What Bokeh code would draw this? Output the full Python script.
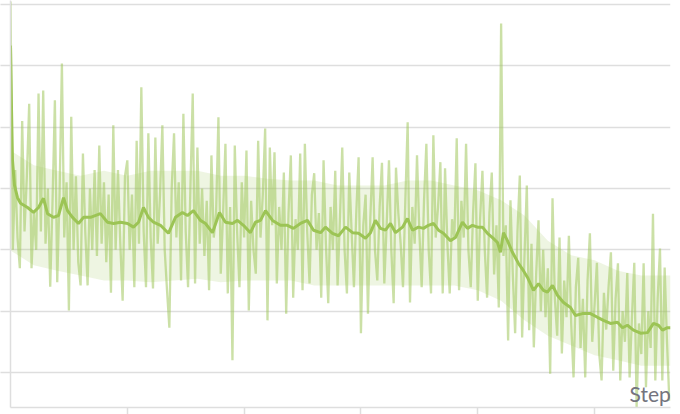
from bokeh.plotting import figure
from bokeh.models import FixedTicker, Label, CustomJSTickFormatter
from bokeh.embed import file_html
from bokeh.resources import INLINE

# Raw series (one value every 20 steps, from step 0)
raw_step_interval = 20
raw_values = [
    7.05, 3.0, 4.3, 3.2, 2.7, 5.1, 3.3, 4.2, 5.38, 2.7,
    3.6, 3.0, 5.55, 3.3, 5.6, 3.1, 4.0, 2.4, 3.8, 5.44,
    2.47, 3.9, 6.04, 3.2, 4.1, 2.01, 5.17, 3.0, 4.2, 2.8,
    2.42, 4.57, 3.3, 2.42, 4.0, 3.0, 4.3, 2.9, 4.7, 3.1,
    4.1, 2.8, 3.9, 2.3, 5.03, 3.0, 4.3, 3.1, 2.17, 4.2,
    4.46, 3.0, 3.9, 2.39, 4.78, 3.1, 5.65, 3.3, 2.39, 4.9,
    3.2, 2.37, 4.83, 3.1, 3.9, 5.03, 3.0, 2.34, 1.73, 4.0,
    4.9, 3.2, 4.1, 2.5, 5.22, 3.3, 2.39, 4.0, 5.55, 2.45,
    4.67, 3.1, 4.0, 2.9, 3.8, 2.34, 4.54, 3.2, 3.6, 5.16,
    2.61, 3.6, 4.73, 2.29, 3.7, 1.2, 4.7, 3.3, 2.39, 4.1,
    3.2, 4.62, 2.01, 3.8, 3.0, 2.61, 4.78, 3.2, 3.9, 4.98,
    1.85, 4.67, 3.4, 4.59, 2.45, 3.7, 3.0, 4.26, 1.96, 3.6,
    4.54, 2.22, 3.5, 3.0, 4.57, 2.34, 4.73, 3.3, 2.45, 3.9,
    4.25, 3.0, 3.6, 2.22, 4.46, 3.1, 2.13, 3.7, 3.0, 4.29,
    2.42, 3.5, 4.67, 3.0, 2.29, 4.26, 3.3, 2.39, 3.6, 4.51,
    1.64, 3.4, 3.9, 1.96, 3.5, 4.51, 3.0, 2.5, 3.7, 4.42,
    2.45, 3.4, 4.46, 3.0, 2.13, 4.34, 3.6, 3.1, 2.39, 3.8,
    5.08, 2.14, 3.7, 3.1, 4.54, 3.3, 2.39, 3.8, 4.73, 3.0,
    2.29, 4.87, 3.2, 3.7, 4.43, 2.29, 4.33, 3.1, 2.29, 3.5,
    3.2, 4.82, 2.34, 3.8, 3.2, 4.73, 3.0, 2.39, 3.6, 4.41,
    2.17, 3.5, 4.29, 3.0, 2.22, 3.6, 4.26, 2.6, 3.4, 2.06,
    6.69, 2.9, 3.4, 1.52, 3.81, 2.6, 1.64, 3.3, 4.21, 1.57,
    2.9, 4.05, 1.69, 3.1, 1.41, 2.6, 3.48, 2.0, 3.0, 1.9,
    2.7, 0.98, 3.84, 2.2, 1.6, 3.2, 1.31, 2.5, 1.9, 3.23,
    1.8, 0.92, 2.4, 2.87, 1.4, 2.2, 0.92, 2.5, 3.27, 1.5,
    2.1, 2.79, 1.3, 0.87, 2.3, 1.7, 2.4, 2.96, 1.03, 2.2,
    2.78, 0.87, 2.0, 1.5, 2.62, 0.92, 1.9, 2.79, 0.43, 1.8,
    1.3, 2.78, 0.76, 2.0, 1.4, 3.59, 0.87, 2.2, 3.02, 0.87,
    2.71, 1.5, 0.54,
]
raw_steps = [i * raw_step_interval for i in range(len(raw_values))]

# Dense core of the raw series (where the raw line fills the band)
band_steps = [0, 200, 400, 600, 800, 1000, 1200, 1400, 1600, 1800,
              2000, 2200, 2400, 2600, 2800, 3000, 3200, 3400, 3600, 3800,
              4000, 4200, 4400, 4600, 4800, 5000, 5200, 5400, 5600, 5650]
band_upper = [4.62, 4.38, 4.29, 4.21, 4.29, 4.21, 4.29, 4.29, 4.29, 4.21,
              4.21, 4.16, 4.13, 4.13, 4.05, 4.05, 4.05, 4.13, 4.13, 4.05,
              3.97, 3.81, 3.56, 3.15, 2.91, 2.83, 2.66, 2.58, 2.58, 2.58]
band_lower = [2.99, 2.75, 2.66, 2.58, 2.50, 2.50, 2.47, 2.50, 2.53, 2.47,
              2.50, 2.50, 2.50, 2.42, 2.42, 2.42, 2.42, 2.42, 2.42, 2.42,
              2.34, 2.17, 1.85, 1.60, 1.44, 1.28, 1.20, 1.11, 1.11, 1.11]

# Smoothed series
smooth_steps = [
    0, 9, 17, 34, 60, 86, 146, 197, 240, 282,
    317, 368, 411, 454, 488, 531, 582, 625, 685, 770,
    830, 882, 942, 1002, 1053, 1096, 1138, 1181, 1224, 1284,
    1352, 1412, 1472, 1515, 1566, 1626, 1669, 1729, 1789, 1840,
    1900, 1943, 1994, 2054, 2097, 2140, 2183, 2243, 2311, 2371,
    2422, 2482, 2542, 2594, 2654, 2696, 2756, 2808, 2868, 2928,
    2979, 3039, 3082, 3124, 3167, 3210, 3253, 3296, 3356, 3398,
    3441, 3492, 3535, 3578, 3621, 3664, 3706, 3766, 3809, 3869,
    3912, 3955, 3998, 4040, 4083, 4126, 4169, 4194, 4220, 4254,
    4297, 4348, 4391, 4426, 4477, 4520, 4562, 4597, 4640, 4682,
    4734, 4794, 4836, 4896, 4965, 5025, 5076, 5136, 5196, 5239,
    5281, 5333, 5393, 5453, 5504, 5547, 5581, 5624, 5650,
]
smooth_values = [
    6.33, 5.27, 4.46, 4.05, 3.85, 3.76, 3.69, 3.61, 3.69, 3.84,
    3.59, 3.53, 3.56, 3.85, 3.64, 3.53, 3.43, 3.53, 3.53, 3.59,
    3.45, 3.43, 3.45, 3.43, 3.37, 3.45, 3.69, 3.53, 3.45, 3.40,
    3.27, 3.53, 3.61, 3.56, 3.64, 3.48, 3.43, 3.28, 3.61, 3.45,
    3.43, 3.48, 3.40, 3.28, 3.45, 3.48, 3.64, 3.48, 3.40, 3.40,
    3.35, 3.43, 3.48, 3.32, 3.28, 3.37, 3.27, 3.23, 3.37, 3.28,
    3.27, 3.19, 3.28, 3.48, 3.35, 3.32, 3.43, 3.28, 3.37, 3.51,
    3.32, 3.37, 3.35, 3.40, 3.43, 3.32, 3.27, 3.15, 3.20, 3.45,
    3.35, 3.40, 3.37, 3.37, 3.27, 3.20, 3.12, 2.96, 3.28, 3.15,
    2.96, 2.78, 2.66, 2.55, 2.34, 2.45, 2.34, 2.31, 2.42, 2.26,
    2.14, 2.06, 1.93, 1.96, 1.96, 1.90, 1.85, 1.80, 1.82, 1.73,
    1.77, 1.69, 1.64, 1.65, 1.80, 1.77, 1.69, 1.73, 1.73,
]

x_ticks = [1000, 2000, 3000, 4000, 5000]
y_ticks = [1, 2, 3, 4, 5, 6, 7]
x_title = "Step"

GREEN = "#A0C75C"
GRID = "#dedede"

p = figure(width=680, height=414, x_range=(0, 5650), y_range=(0.429, 7.066),
           output_backend="svg", toolbar_location=None,
           min_border_left=10, min_border_right=10, min_border_top=0, min_border_bottom=7)
p.outline_line_color = None
p.background_fill_color = "white"

p.varea(x=band_steps, y1=band_lower, y2=band_upper, fill_color=GREEN, fill_alpha=0.18)
p.line(raw_steps, raw_values, line_color=GREEN, line_alpha=0.55, line_width=2.3)
p.line(smooth_steps, smooth_values, line_color="#9CC455", line_width=3)

empty = CustomJSTickFormatter(code="return '';")
for ax, out in ((p.xaxis[0], 7), (p.yaxis[0], 10)):
    ax.formatter = empty
    ax.major_label_text_font_size = "1px"
    ax.major_label_standoff = 0
    ax.major_tick_in = 0
    ax.major_tick_out = out
    ax.minor_tick_in = 0
    ax.minor_tick_out = 0
    ax.axis_line_color = GRID
    ax.axis_line_width = 1.5
    ax.major_tick_line_color = GRID
    ax.major_tick_line_width = 1.5

p.xaxis[0].ticker = FixedTicker(ticks=x_ticks)
p.yaxis[0].ticker = FixedTicker(ticks=y_ticks)
p.xgrid.visible = False
p.ygrid.ticker = FixedTicker(ticks=y_ticks)
p.ygrid.grid_line_color = GRID
p.ygrid.grid_line_width = 1.5

p.add_layout(Label(x=5300, y=0.658, text=x_title, text_font="Lato", text_font_size="21px",
                   text_color="#74747e", text_baseline="alphabetic"))

open("out.html", "w").write(file_html(p, INLINE))
